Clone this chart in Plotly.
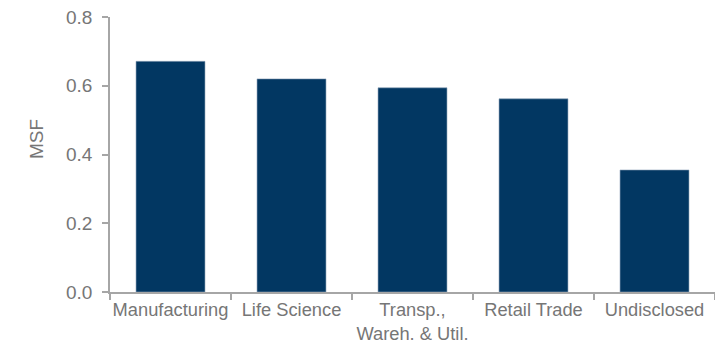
import plotly.graph_objects as go

categories = ["Manufacturing", "Life Science", "Transp.,<br>Wareh. & Util.", "Retail Trade", "Undisclosed"]
values = [0.671, 0.620, 0.594, 0.562, 0.355]
y_ticks = [0.0, 0.2, 0.4, 0.6, 0.8]
y_tick_labels = ["0.0", "0.2", "0.4", "0.6", "0.8"]
y_title = "MSF"

bar_color = "#023762"
text_color = "#767676"
axis_color = "#a6a6a6"
font_family = "Liberation Sans, Arial, sans-serif"

fig = go.Figure(go.Bar(
    x=categories, y=values,
    marker=dict(color=bar_color, line=dict(color="#8fa3b8", width=0.6)),
    width=0.57,
))

fig.update_layout(
    width=715, height=343,
    margin=dict(l=110, r=0, t=17, b=51),
    paper_bgcolor="white", plot_bgcolor="white",
    font=dict(family=font_family, color=text_color, size=18.5),
    showlegend=False,
    xaxis=dict(
        showline=True, linecolor=axis_color, linewidth=1.5,
        ticks="outside", tickson="boundaries", ticklen=6, tickcolor=axis_color, tickwidth=1.5,
        tickfont=dict(size=18.3, color=text_color), tickangle=0, automargin=False,
        ticklabelstandoff=0,
        showgrid=False, zeroline=False,
    ),
    yaxis=dict(
        range=[0, 0.8], tickvals=y_ticks, ticktext=y_tick_labels,
        showline=True, linecolor=axis_color, linewidth=1.5,
        ticks="outside", ticklen=6, tickcolor=axis_color, tickwidth=1.5,
        tickfont=dict(size=19, color=text_color), automargin=False,
        ticklabelstandoff=6,
        showgrid=False, zeroline=False,
    ),
    annotations=[dict(
        text=y_title, textangle=-90, xref="paper", yref="y",
        x=0, y=0.445, xanchor="center", yanchor="middle", xshift=-74,
        showarrow=False, font=dict(size=19, color=text_color),
    )],
)

fig.write_html("out.html")
